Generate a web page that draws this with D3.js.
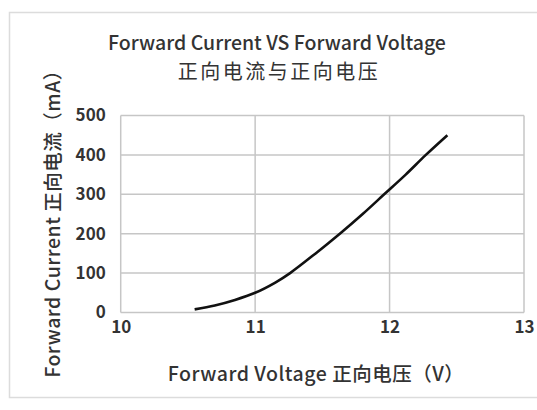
<!DOCTYPE html>
<html><head><meta charset="utf-8">
<script src="https://cdn.jsdelivr.net/npm/d3@7/dist/d3.min.js"></script>
<style>
body{margin:0;background:#fff;}
text{font-family:"Noto Sans CJK SC","Open Sans",sans-serif;fill:#333;}
</style></head><body>
<svg id="c" width="537" height="410"></svg>
<script>
const voltage = [10.55, 10.7, 10.85, 11.0, 11.15, 11.26, 11.45, 11.63, 11.8, 11.96, 12.12, 12.27, 12.43];
const current = [8, 18, 32, 50, 76, 100, 150, 200, 250, 300, 350, 400, 450];
const xTicks = [10, 11, 12, 13];
const yTicks = [0, 100, 200, 300, 400, 500];
const titleEn = "Forward Current VS Forward Voltage";
const titleZh = "正向电流与正向电压";
const xLabel = "Forward Voltage 正向电压（V）";
const yLabel = "Forward Current 正向电流（mA）";

const svg = d3.select("#c");
svg.append("rect").attr("x",9.5).attr("y",12.5).attr("width",530).attr("height",385)
  .attr("fill","#fff").attr("stroke","#dcdcdc").attr("stroke-width",1.5);

const x = d3.scaleLinear().domain([10,13]).range([120.7,524]);
const y = d3.scaleLinear().domain([0,500]).range([312.5,115.5]);

const g = svg.append("g");
g.selectAll(".vg").data(xTicks).join("line")
  .attr("x1",d=>x(d)).attr("x2",d=>x(d)).attr("y1",y(0)).attr("y2",y(500))
  .attr("stroke","#c6c6c6").attr("stroke-width",1.5);
g.selectAll(".hg").data(yTicks).join("line")
  .attr("y1",d=>y(d)).attr("y2",d=>y(d)).attr("x1",x(10)).attr("x2",x(13))
  .attr("stroke","#c6c6c6").attr("stroke-width",1.5);

const yAxis = d3.axisLeft(y).tickValues(yTicks).tickFormat(d3.format("d")).tickSize(0).tickPadding(15);
const ya = svg.append("g").attr("transform",`translate(${x(10)},0)`).call(yAxis);
ya.select(".domain").remove();
ya.selectAll("text").style("font-size","17px").style("font-weight","bold").attr("fill","#333");

const xAxis = d3.axisBottom(x).tickValues(xTicks).tickFormat(d3.format("d")).tickSize(0).tickPadding(8);
const xa = svg.append("g").attr("transform",`translate(0,${y(0)})`).call(xAxis);
xa.select(".domain").remove();
xa.selectAll("text").style("font-size","17px").style("font-weight","bold").attr("fill","#333");

const data = voltage.map((v,i)=>({v, c: current[i]}));
svg.append("path").datum(data)
  .attr("d", d3.line().x(d=>x(d.v)).y(d=>y(d.c)).curve(d3.curveCatmullRom))
  .attr("fill","none").attr("stroke","#111").attr("stroke-width",2.6);

svg.append("text").attr("x",277).attr("y",50).attr("text-anchor","middle")
  .style("font-size","19.5px").style("font-weight","500").text(titleEn);
svg.append("text").attr("x",279).attr("y",79).attr("text-anchor","middle")
  .style("font-size","20px").style("letter-spacing","2.5px").text(titleZh);

svg.append("text").attr("x",316).attr("y",381).attr("text-anchor","middle")
  .style("font-size","19.5px").style("font-weight","500").style("letter-spacing","0.5px").text(xLabel);
svg.append("text").attr("transform","translate(60,219) rotate(-90)").attr("text-anchor","middle")
  .style("font-size","19.5px").style("font-weight","500").style("letter-spacing","0.5px").text(yLabel);
</script></body></html>
